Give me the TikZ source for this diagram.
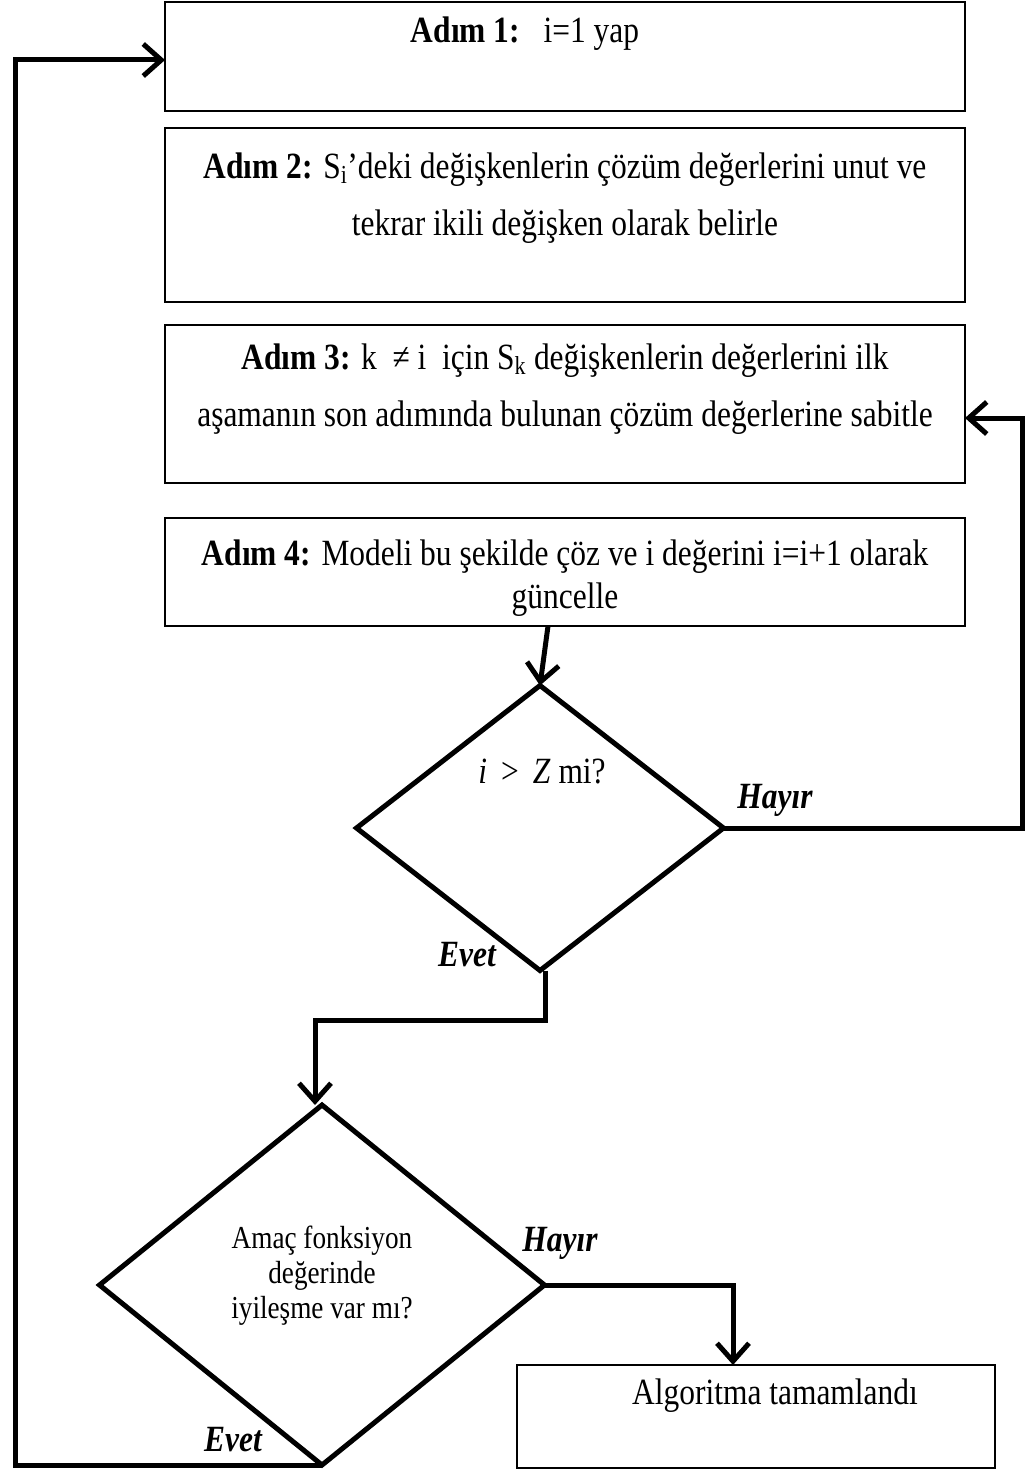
\RequirePackage{fix-cm}
\documentclass[tikz,border=0pt]{standalone}
\usepackage{fontspec}
\setmainfont{Liberation Serif}[FakeStretch=0.85]
\usepackage{tikz}
\usetikzlibrary{arrows.meta,shapes.geometric,positioning}
\tikzstyle{kutu} = [draw,line width=2pt,minimum width=800pt,inner sep=0pt,outer sep=0pt]
\tikzstyle{karar} = [draw,diamond,line width=5pt,inner sep=0pt,outer sep=0pt]
\tikzstyle{ok} = [-{Straight Barb[length=18pt,width=32pt]},line width=5pt]
\tikzstyle{metin} = [align=center,inner sep=0pt,font=\fontsize{37}{57}\selectfont]
\tikzstyle{etiket} = [inner sep=0pt,font=\fontsize{37}{42}\selectfont\bfseries\itshape]

\begin{document}
\begin{tikzpicture}[x=1pt,y=-1pt]
	\useasboundingbox (0,0) rectangle (1029,1472);

	\node[kutu,minimum height=108pt] (s1) at (565,56.5) {};
	\node[metin] (t1) at (525,34) {\textbf{Adım 1:}\ \ \ i=1 yap};

	\node[kutu,minimum height=174pt] (s2) at (565,215) {};
	\node[metin] (t2) at (565,198) {\textbf{Adım 2:} S\textsubscript{i}’deki değişkenlerin çözüm değerlerini unut ve\\tekrar ikili değişken olarak belirle};

	\node[kutu,minimum height=158pt] (s3) at (565,404) {};
	\node[metin] (t3) at (565,389) {\textbf{Adım 3:} k\ \ ≠ i\ \ için S\textsubscript{k} değişkenlerin değerlerini ilk\\aşamanın son adımında bulunan çözüm değerlerine sabitle};

	\node[kutu,minimum height=108pt] (s4) at (565,572) {};
	\node[metin,font=\fontsize{37}{43}\selectfont] (t4) at (565,578) {\textbf{Adım 4:} Modeli bu şekilde çöz ve i değerini i=i+1 olarak\\güncelle};

	\node[karar,minimum width=367pt,minimum height=285pt] (d1) at (540,828) {};
	\node[metin] (t5) at (542,772) {\textit{i} \,>\, \textit{Z} mi?};

	\node[karar,minimum width=445pt,minimum height=360pt] (d2) at (322,1285) {};
	\node[metin,font=\fontsize{32}{35}\selectfont] (t6) at (322,1276) {Amaç fonksiyon\\değerinde\\iyileşme var mı?};

	\node[kutu,minimum width=478pt,minimum height=103pt] (s5) at (756,1416.5) {};
	\node[metin] (t7) at (775,1396) {Algoritma tamamlandı};

	\node[etiket] (h1) at (775,800) {Hayır};
	\node[etiket] (e1) at (467,955) {Evet};
	\node[etiket] (h2) at (560,1243) {Hayır};
	\node[etiket] (e2) at (233,1440) {Evet};

	\coordinate (sag) at (1022,828);
	\coordinate (orta) at (545,1020);
	\coordinate (sol) at (15,60);

	\draw[ok] ([xshift=-17pt]s4.south) -- (d1.north);
	\draw[ok] (d1.east) -- (sag) |- (s3.east |- 0,418);
	\draw[ok] ([xshift=5pt]d1.south) -- (orta) -| ([xshift=-7pt]d2.north);
	\draw[ok] (d2.east) -| ([xshift=-23pt]s5.north);
	\draw[ok] (d2.south) -| (sol) -- (s1.west |- sol);

\end{tikzpicture}
\end{document}
